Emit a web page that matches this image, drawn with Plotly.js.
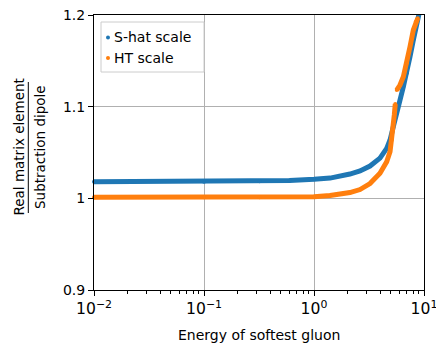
<!DOCTYPE html>
<html><head><meta charset="utf-8">
<script src="https://cdn.plot.ly/plotly-3.0.1.min.js"></script>
<style>html,body{margin:0;padding:0;background:#fff}</style>
</head><body><div id="chart" style="width:436px;height:344px"></div>
<script>
// Data
const shatEnergy = [0.01, 0.1, 0.32, 0.6, 1.0, 1.4, 2.12, 2.62, 3.23, 3.98, 4.58, 4.91, 5.26, 5.65, 6.05, 6.49, 6.96, 7.46, 8.0, 8.58, 9.0];
const shatRatio  = [1.0181, 1.0182, 1.0187, 1.0194, 1.0207, 1.0221, 1.0265, 1.0298, 1.0352, 1.0439, 1.0545, 1.0636, 1.0781, 1.0963, 1.1072, 1.1217, 1.1364, 1.1545, 1.1727, 1.1909, 1.2010];
const htEnergy = [0.01, 0.1, 0.32, 0.6, 1.0, 1.4, 2.12, 2.62, 3.23, 3.98, 4.58, 4.91, 5.09, 5.26, 5.37, 5.48, null, 5.65, 6.05, 6.49, 6.96, 7.46, 8.0, 8.41, 8.77];
const htRatio  = [1.0011, 1.0011, 1.0013, 1.0014, 1.0017, 1.0031, 1.0063, 1.0096, 1.0161, 1.0273, 1.0399, 1.0508, 1.0636, 1.0781, 1.0909, 1.1029, null, 1.1181, 1.1236, 1.1326, 1.1473, 1.1654, 1.1836, 1.1926, 1.1964];
const seriesNames = ['S-hat scale', 'HT scale'];
const seriesColors = ['#1f77b4', '#ff7f0e'];
const xLabelAlias = {'0.01': '10<sup>\u22122</sup>', '0.1': '10<sup>\u22121</sup>', '1': '10<sup>0</sup>', '10': '10<sup>1</sup>'};
const yTickVals = [0.9, 1, 1.1, 1.2];
const yTickText = ['0.9', '1', '1.1', '1.2'];
const xTitle = 'Energy of softest gluon';
const yTitleTop = 'Real matrix element';
const yTitleBottom = 'Subtraction dipole';

const W = 436, H = 344, L = 94, R = 12, T = 15, B = 54;
const pw = W - L - R, ph = H - T - B;
const px = x => (x - L) / pw;
const py = y => (H - B - y) / ph;

const font = {family: 'DejaVu Sans, sans-serif', size: 14, color: '#000'};
const xtfont = {family: 'DejaVu Sans, sans-serif', size: 12.5, color: '#000'};
const yfont = {family: 'DejaVu Sans, sans-serif', size: 13.5, color: '#000'};

const traces = [
  {x: shatEnergy, y: shatRatio, name: seriesNames[0], mode: 'lines+markers',
   line: {color: seriesColors[0], width: 5}, marker: {color: seriesColors[0], size: 4},
   cliponaxis: false, showlegend: false},
  {x: htEnergy, y: htRatio, name: seriesNames[1], mode: 'lines+markers',
   line: {color: seriesColors[1], width: 5}, marker: {color: seriesColors[1], size: 4},
   cliponaxis: false, showlegend: false, connectgaps: false}
];

const legY = [37.5, 58];
const shapes = [
  {type: 'rect', xref: 'paper', yref: 'paper', x0: px(101), x1: px(204), y0: py(72), y1: py(22),
   line: {color: '#cccccc', width: 1}, fillcolor: 'rgba(255,255,255,0.8)', layer: 'above'},
  {type: 'line', xref: 'paper', yref: 'paper', x0: px(28.3), x1: px(28.3), y0: py(213), y1: py(82),
   line: {color: '#000', width: 1}}
];
const annotations = [
  {text: yTitleTop, xref: 'paper', yref: 'paper', x: px(18), y: py(147.5), textangle: -90,
   showarrow: false, xanchor: 'center', yanchor: 'middle', font: yfont},
  {text: yTitleBottom, xref: 'paper', yref: 'paper', x: px(39.5), y: py(147.5), textangle: -90,
   showarrow: false, xanchor: 'center', yanchor: 'middle', font: yfont},
  {text: xTitle, xref: 'paper', yref: 'paper', x: 0.5, y: py(335), showarrow: false,
   xanchor: 'center', yanchor: 'middle', font: font}
];
seriesNames.forEach((n, i) => {
  shapes.push({type: 'circle', xref: 'paper', yref: 'paper', xsizemode: 'pixel', ysizemode: 'pixel',
    xanchor: px(108), yanchor: py(legY[i]), x0: -2, x1: 2, y0: -2, y1: 2,
    fillcolor: seriesColors[i], line: {width: 0}, layer: 'above'});
  annotations.push({text: n, xref: 'paper', yref: 'paper', x: px(112), y: py(legY[i]),
    showarrow: false, xanchor: 'left', yanchor: 'middle', font: font});
});

const layout = {
  width: W, height: H, margin: {l: L, r: R, t: T, b: B},
  paper_bgcolor: '#fff', plot_bgcolor: '#fff', font: font, showlegend: false,
  xaxis: {type: 'log', range: [-2, 1], tickmode: 'linear', tick0: 0, dtick: 1, exponentformat: 'power',
    labelalias: xLabelAlias, ticklabeloverflow: 'allow',
    showline: true, linecolor: '#000', linewidth: 1, mirror: true,
    ticks: 'outside', ticklen: 5, tickcolor: '#000', tickwidth: 1,
    showgrid: true, gridcolor: '#b0b0b0', gridwidth: 1, zeroline: false,
    minor: {ticks: 'outside', ticklen: 3, tickcolor: '#000', tickwidth: 1, showgrid: false},
    tickfont: xtfont},
  yaxis: {range: [0.9, 1.2], tickvals: yTickVals, ticktext: yTickText,
    showline: true, linecolor: '#000', linewidth: 1, mirror: true,
    ticks: 'outside', ticklen: 5, tickcolor: '#000', tickwidth: 1,
    showgrid: true, gridcolor: '#b0b0b0', gridwidth: 1, zeroline: false, tickfont: font},
  shapes: shapes, annotations: annotations
};

Plotly.newPlot('chart', traces, layout, {staticPlot: true, displayModeBar: false});
</script></body></html>
